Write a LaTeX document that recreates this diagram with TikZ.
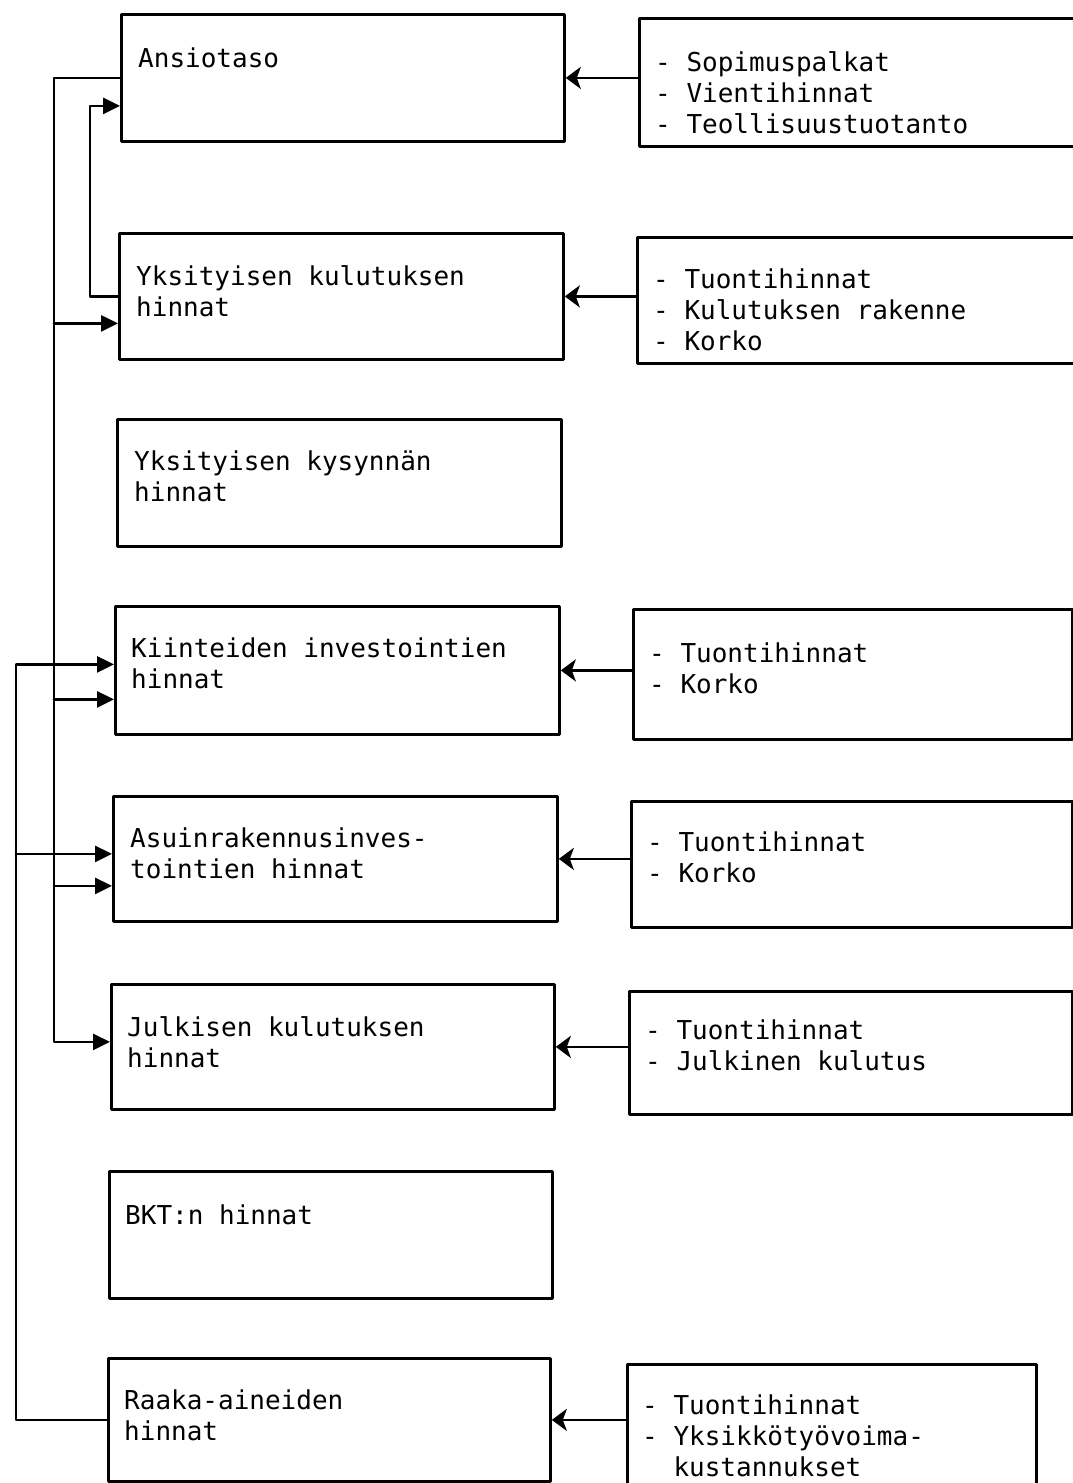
\documentclass[tikz,border=0pt]{standalone}
\usepackage{fontspec}
\setmonofont{DejaVu Sans Mono}
\usetikzlibrary{arrows.meta}

\tikzset{
  pbox/.style={draw,line width=2.8pt,anchor=north west,inner sep=0pt},
  ptext/.style={anchor=north west,inner sep=0pt,align=left,
    font=\ttfamily\fontsize{26}{31}\selectfont,execute at begin node=\strut},
  feed/.style={line width=2.8pt,-{Stealth[length=15pt,width=22pt,inset=4pt]}},
  link/.style={line width=2.8pt,-{Triangle[length=17pt,width=16pt]}},
}

\begin{document}
\begin{tikzpicture}[x=1pt,y=-1pt,line cap=round,line join=round]
  \useasboundingbox (0,0) rectangle (1073,1483);
  % price blocks on the left
  \node[pbox,minimum width=443pt,minimum height=127pt] (ans) at (120,13) {};
  \node[pbox,minimum width=444pt,minimum height=126pt] (yksk) at (118,232) {};
  \node[pbox,minimum width=444pt,minimum height=127pt] (yksd) at (116,418) {};
  \node[pbox,minimum width=444pt,minimum height=128pt] (kiin) at (114,605) {};
  \node[pbox,minimum width=444pt,minimum height=125pt] (asu) at (112,795) {};
  \node[pbox,minimum width=443pt,minimum height=125pt] (julk) at (110,983) {};
  \node[pbox,minimum width=443pt,minimum height=127pt] (bkt) at (108,1170) {};
  \node[pbox,minimum width=442pt,minimum height=123pt] (raaka) at (107,1357) {};
  \node[ptext] at ([shift={(18pt,-33pt)}]ans.north west) {Ansiotaso};
  \node[ptext] at ([shift={(18pt,-33pt)}]yksk.north west) {Yksityisen kulutuksen\\hinnat};
  \node[ptext] at ([shift={(18pt,-33pt)}]yksd.north west) {Yksityisen kysynnän\\hinnat};
  \node[ptext] at ([shift={(17pt,-33pt)}]kiin.north west) {Kiinteiden investointien\\hinnat};
  \node[ptext] at ([shift={(18pt,-33pt)}]asu.north west) {Asuinrakennusinves-\\tointien hinnat};
  \node[ptext] at ([shift={(17pt,-33pt)}]julk.north west) {Julkisen kulutuksen\\hinnat};
  \node[ptext] at ([shift={(17pt,-33pt)}]bkt.north west) {BKT:n hinnat};
  \node[ptext] at ([shift={(17pt,-33pt)}]raaka.north west) {Raaka-aineiden\\hinnat};
  % explanatory factors on the right
  \node[pbox,minimum width=460pt,minimum height=128pt] (ansx) at (638,17) {};
  \node[pbox,minimum width=460pt,minimum height=126pt] (ykskx) at (636,236) {};
  \node[pbox,minimum width=439pt,minimum height=130pt] (kiinx) at (632,608) {};
  \node[pbox,minimum width=441pt,minimum height=126pt] (asux) at (630,800) {};
  \node[pbox,minimum width=443pt,minimum height=123pt] (julkx) at (628,990) {};
  \node[pbox,minimum width=409pt,minimum height=150pt] (raakax) at (626,1363) {};
  \node[ptext] at ([shift={(17pt,-34pt)}]ansx.north west) {- Sopimuspalkat\\- Vientihinnat\\- Teollisuustuotanto};
  \node[ptext] at ([shift={(17pt,-33pt)}]ykskx.north west) {- Tuontihinnat\\- Kulutuksen rakenne\\- Korko};
  \node[ptext] at ([shift={(17pt,-35pt)}]kiinx.north west) {- Tuontihinnat\\- Korko};
  \node[ptext] at ([shift={(17pt,-32pt)}]asux.north west) {- Tuontihinnat\\- Korko};
  \node[ptext] at ([shift={(17pt,-30pt)}]julkx.north west) {- Tuontihinnat\\- Julkinen kulutus};
  \node[ptext] at ([shift={(16pt,-32pt)}]raakax.north west) {- Tuontihinnat\\- Yksikkötyövoima-\\\phantom{- }kustannukset};
  \draw[feed] (ans.east -| ansx.west) -- (ans.east);
  \draw[feed] (yksk.east -| ykskx.west) -- (yksk.east);
  \draw[feed] (kiin.east -| kiinx.west) -- (kiin.east);
  \draw[feed] (asu.east -| asux.west) -- (asu.east);
  \draw[feed] (julk.east -| julkx.west) -- (julk.east);
  \draw[feed] (raaka.east -| raakax.west) -- (raaka.east);
  % feedback lines on the left
  \coordinate (busA) at (54,0);
  \coordinate (busB) at (90,0);
  \coordinate (busC) at (16,0);
  \coordinate (a1) at ([yshift=-27pt]yksk.west);
  \coordinate (a2) at ([yshift=-29pt]kiin.west);
  \coordinate (a3) at ([yshift=-27pt]asu.west);
  \coordinate (a4) at ([yshift=5pt]julk.west);
  \coordinate (b1) at ([yshift=-28pt]ans.west);
  \coordinate (c1) at ([yshift=6pt]kiin.west);
  \coordinate (c2) at ([yshift=5pt]asu.west);
  \draw[link] (ans.west) -| (busA |- a4) -- (a4);
  \draw[link] (busA |- a1) -- (a1);
  \draw[link] (busA |- a2) -- (a2);
  \draw[link] (busA |- a3) -- (a3);
  \draw[link] (yksk.west) -| (busB |- b1) -- (b1);
  \draw[link] (raaka.west) -| (busC |- c1) -- (c1);
  \draw[link] (busC |- c2) -- (c2);
\end{tikzpicture}
\end{document}
